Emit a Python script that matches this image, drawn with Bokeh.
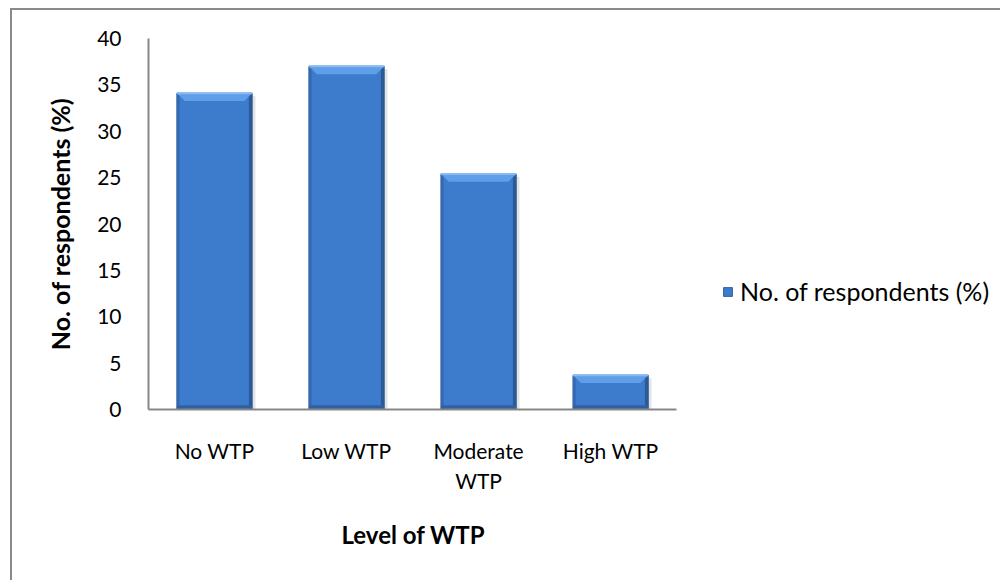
from bokeh.plotting import figure
from bokeh.models import Range1d, FixedTicker, Legend, LegendItem, ColumnDataSource, Title
from bokeh.embed import file_html
from bokeh.resources import INLINE

# Willingness-to-pay survey results
categories = ["No WTP", "Low WTP", "Moderate WTP", "High WTP"]
tick_labels = ["No WTP", "Low WTP", "Moderate\nWTP", "High WTP"]
respondents_pct = [34.1, 37.0, 25.4, 3.7]
series_name = "No. of respondents (%)"
x_title = "Level of WTP"

FONT = "Lato"
AXIS_GREY = "#878787"

n = len(categories)
xs = list(range(n))
bar_w = 0.57
bevel_x = 0.06   # horizontal inset of the bevelled top (category units)
bevel_y = 0.85   # height of the bevelled top (value units)

# the frame is widened to the right so the legend can sit beside the bars;
# the category axis itself is bounded to the four slots
extra_slots = 2.4
p = figure(width=990, height=572,
           x_range=Range1d(-0.5, n - 0.5 + extra_slots),
           y_range=Range1d(0, 40),
           output_backend="svg", toolbar_location=None,
           min_border_left=136, min_border_right=9,
           min_border_top=28, min_border_bottom=173)
p.styles = {"margin-left": "10px", "margin-top": "8px",
            "border-left": "2px solid #8a8a8a", "border-top": "2px solid #8a8a8a"}
p.outline_line_color = None
p.grid.visible = False
p.background_fill_color = "white"
p.border_fill_color = "white"

src = ColumnDataSource(dict(x=xs, top=respondents_pct))

# soft drop shadow to the right of each bar
p.quad(left=[x + bar_w / 2 for x in xs], right=[x + bar_w / 2 + 0.025 for x in xs],
       bottom=[0] * n, top=[v - 0.3 for v in respondents_pct],
       fill_color="#E4E4E4", line_color=None)

# main bar body
bars = p.vbar(x="x", top="top", width=bar_w, bottom=0, source=src,
              fill_color="#3D7CCC", line_color="#2F609F", line_width=1)

# side / bottom shading for a bevelled look
p.quad(left=[x - bar_w / 2 for x in xs], right=[x - bar_w / 2 + 0.02 for x in xs],
       bottom=[0] * n, top=respondents_pct,
       fill_color="#3568B0", line_color=None)
p.quad(left=[x + bar_w / 2 - 0.025 for x in xs], right=[x + bar_w / 2 for x in xs],
       bottom=[0] * n, top=respondents_pct,
       fill_color="#2D5A96", line_color=None)
p.quad(left=[x - bar_w / 2 for x in xs], right=[x + bar_w / 2 for x in xs],
       bottom=[0] * n, top=[min(0.45, v) for v in respondents_pct],
       fill_color="#30609F", line_color=None)

# lighter bevelled top
top_xs, top_ys = [], []
for x, v in zip(xs, respondents_pct):
    l, r = x - bar_w / 2, x + bar_w / 2
    h = min(bevel_y, v * 0.4)
    top_xs.append([l, r, r - bevel_x, l + bevel_x])
    top_ys.append([v, v, v - h, v - h])
p.patches(top_xs, top_ys, fill_color="#5F9EE8", line_color=None)
p.segment(x0=[x - bar_w / 2 for x in xs], x1=[x + bar_w / 2 for x in xs],
          y0=respondents_pct, y1=respondents_pct, line_color="#86BAF2", line_width=2)

# axes
p.xaxis.ticker = FixedTicker(ticks=xs)
p.xaxis.bounds = (-0.5, n - 0.5)
p.xaxis.major_label_overrides = {x: lab for x, lab in zip(xs, tick_labels)}
p.yaxis.ticker = FixedTicker(ticks=list(range(0, 41, 5)))
for ax in (p.xaxis, p.yaxis):
    ax.axis_line_color = AXIS_GREY
    ax.axis_line_width = 2
    ax.major_tick_line_color = None
    ax.minor_tick_line_color = None
    ax.major_label_text_font = FONT
    ax.major_label_text_font_size = "21px"
    ax.major_label_text_color = "black"
    ax.axis_label_text_font = FONT
    ax.axis_label_text_font_style = "bold"
    ax.axis_label_text_color = "black"

p.yaxis.axis_label = series_name
p.yaxis.axis_label_text_font_size = "25px"
p.xaxis.major_label_standoff = 22
p.yaxis.major_label_standoff = 21
p.yaxis.axis_label_standoff = 19

# category-axis title, centred under the four category slots
p.add_layout(Title(text=x_title, align="left", offset=193, standoff=45,
                   text_font=FONT, text_font_size="24px", text_font_style="bold",
                   text_color="black"), "below")

legend = Legend(items=[LegendItem(label=series_name, renderers=[bars])],
                location=(574, 103), orientation="vertical",
                glyph_width=11, glyph_height=11, label_standoff=7,
                padding=0, margin=0, border_line_color=None,
                background_fill_alpha=0,
                label_text_font=FONT, label_text_font_size="25px",
                label_text_color="black")
p.add_layout(legend, "center")

open("out.html", "w").write(file_html(p, INLINE))
